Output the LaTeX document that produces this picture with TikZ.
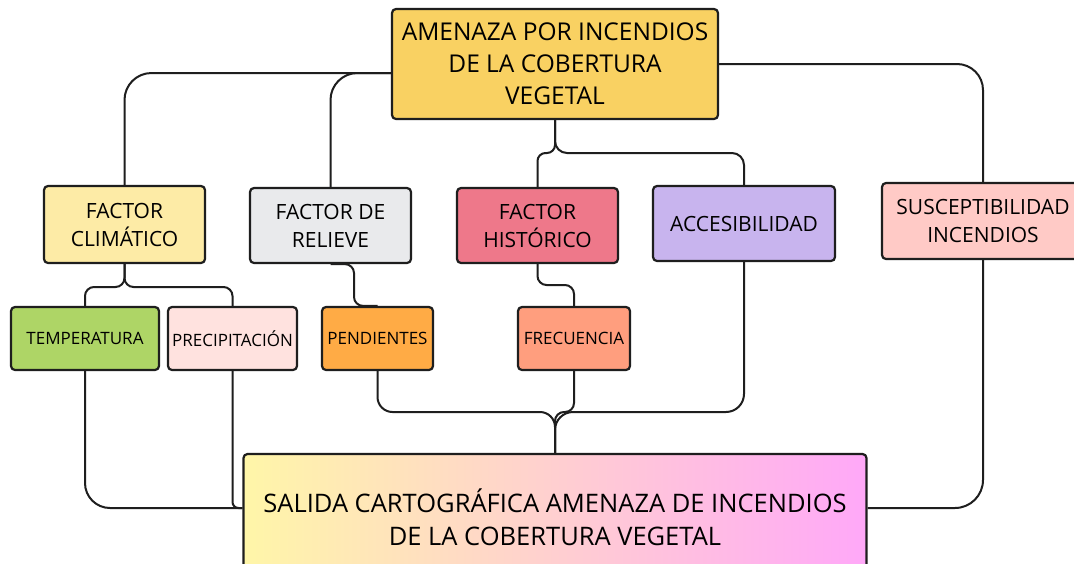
\documentclass[tikz,border=0pt]{standalone}
\usepackage{fontspec}
\setmainfont{Open Sans}
\definecolor{ctop}{HTML}{F9D162}
\definecolor{cfc}{HTML}{FDEBA6}
\definecolor{cfr}{HTML}{E9EAEC}
\definecolor{cfh}{HTML}{EE788A}
\definecolor{cacc}{HTML}{C8B4EE}
\definecolor{csus}{HTML}{FFCAC6}
\definecolor{ctem}{HTML}{AED566}
\definecolor{cpre}{HTML}{FFE2DF}
\definecolor{cpen}{HTML}{FFAB45}
\definecolor{cfre}{HTML}{FF9E7E}
\definecolor{csalL}{HTML}{FFF6A8}
\definecolor{csalM}{HTML}{FFD2D2}
\definecolor{csalR}{HTML}{FFA8F8}
\definecolor{cline}{HTML}{1E1E1E}
\begin{document}
\begin{tikzpicture}[x=1pt,y=-1pt,
  box/.style={draw=cline, line width=2.2pt, rounded corners=4pt, align=center, inner sep=0pt},
  conn/.style={draw=cline, line width=2pt},
  big/.style={font=\fontsize{24.5}{32}\selectfont},
  mid/.style={font=\fontsize{21}{28}\selectfont},
  small/.style={font=\fontsize{17}{20}\selectfont}]
\useasboundingbox (0,0) rectangle (1074,563);
\clip (0,0) rectangle (1074,563);
\fill[white] (0,0) rectangle (1074,563);

\node[box, big, fill=ctop, minimum width=326pt, minimum height=110pt] (top) at (555,64) {AMENAZA POR INCENDIOS\\DE LA COBERTURA\\VEGETAL};

\node[box, mid, fill=cfc, minimum width=161pt, minimum height=77pt] (fc) at (124.5,224.5) {FACTOR\\CLIMÁTICO};
\node[box, mid, fill=cfr, minimum width=161pt, minimum height=75pt] (fr) at (330.5,225.5) {FACTOR DE\\RELIEVE};
\node[box, mid, fill=cfh, minimum width=161pt, minimum height=75pt] (fh) at (537.5,225.5) {FACTOR\\HISTÓRICO};
\node[box, mid, fill=cacc, minimum width=182pt, minimum height=75pt] (acc) at (744,223.5) {ACCESIBILIDAD};
\node[box, mid, fill=csus, minimum width=202pt, minimum height=76pt] (sus) at (983,221) {SUSCEPTIBILIDAD\\INCENDIOS};

\node[box, small, fill=ctem, minimum width=148pt, minimum height=63pt] (tem) at (85,338.5) {TEMPERATURA};
\node[box, small, fill=cpre, minimum width=129pt, minimum height=63pt] (pre) at (232.5,338.5) {PRECIPITACIÓN};
\node[box, small, fill=cpen, minimum width=111pt, minimum height=63pt] (pen) at (377.5,338.5) {PENDIENTES};
\node[box, small, fill=cfre, minimum width=112pt, minimum height=63pt] (fre) at (574,338.5) {FRECUENCIA};

\node[box, font=\fontsize{25.5}{33}\selectfont, left color=csalL, middle color=csalM, right color=csalR, minimum width=623pt, minimum height=126pt] (sal) at (555,517) {SALIDA CARTOGRÁFICA AMENAZA DE INCENDIOS\\DE LA COBERTURA VEGETAL};

\coordinate (j1) at (555,153);
\coordinate (j2) at (124.5,287);
\coordinate (j3) at (537.5,285);
\coordinate (j4) at (555,412);

\draw[conn, rounded corners=27pt] ([yshift=-9pt]top.west) -| (fc.north);
\draw[conn, rounded corners=27pt] ([yshift=-9pt]top.west) -| (fr.north);
\draw[conn, rounded corners=26pt] (top.east) -| (sus.north);
\draw[conn, rounded corners=8pt] (top.south) -- (j1) -| (fh.north);
\draw[conn, rounded corners=12pt] (top.south) -- (j1) -| (acc.north);

\draw[conn, rounded corners=9pt] (fc.south) -- (j2) -| (tem.north);
\draw[conn, rounded corners=9pt] (fc.south) -- (j2) -| (pre.north);
\draw[conn, rounded corners=9pt] (fr.south) -- ++(23.5,0) |- (pen.north);
\draw[conn, rounded corners=9pt] (fh.south) -- (j3) -| (fre.north);

\draw[conn, rounded corners=15pt] (pen.south) |- (j4) -- (sal.north);
\draw[conn, rounded corners=9pt] (fre.south) |- (j4) -- (sal.north);
\draw[conn, rounded corners=18pt] (acc.south) |- (j4) -- (sal.north);

\draw[conn, rounded corners=25pt] (tem.south) |- ([yshift=9pt]sal.west);
\draw[conn, rounded corners=6pt] (pre.south) |- ([yshift=9pt]sal.west);
\draw[conn, rounded corners=28pt] (sus.south) |- ([yshift=9pt]sal.east);
\end{tikzpicture}
\end{document}
